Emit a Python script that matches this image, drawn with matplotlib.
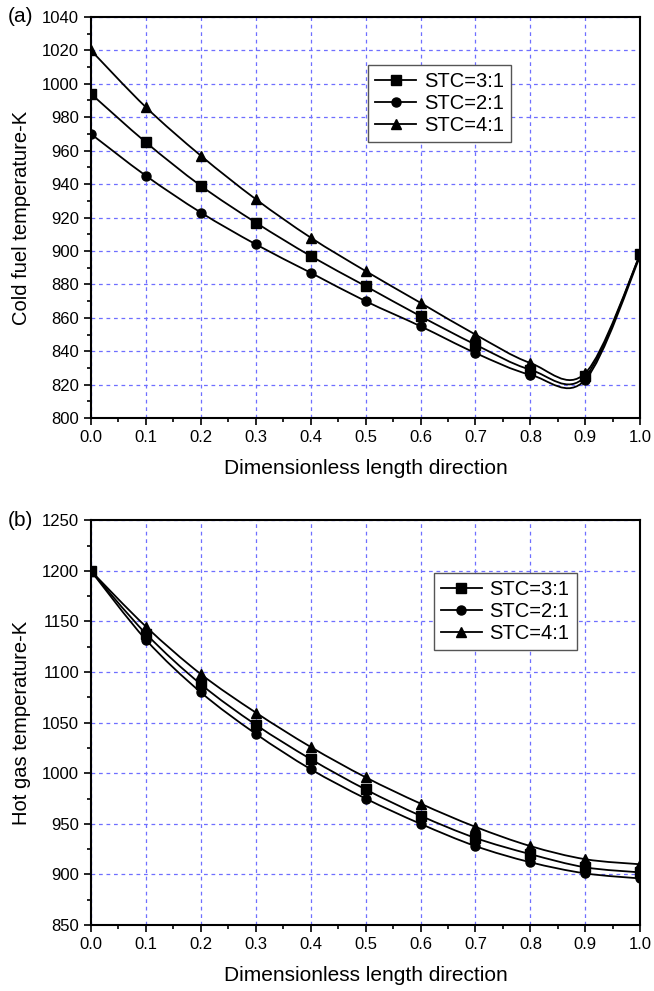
import numpy as np
import matplotlib.pyplot as plt
from matplotlib.path import Path
from matplotlib.patches import PathPatch
from matplotlib.lines import Line2D
from matplotlib.ticker import MultipleLocator

plt.rcParams['font.family'] = ['Liberation Sans', 'DejaVu Sans']

x = [0.0, 0.1, 0.2, 0.3, 0.4, 0.5, 0.6, 0.7, 0.8, 0.9, 1.0]

# (a) cold fuel temperature, K
cold_31 = [994, 965, 939, 917, 897, 879, 861, 844, 829, 825, 898]
cold_21 = [970, 945, 923, 904, 887, 870, 855, 839, 826, 823, 897]
cold_41 = [1020, 986, 957, 931, 908, 888, 869, 850, 833, 827, 898]

# (b) hot gas temperature, K
hot_31 = [1200, 1138, 1088, 1048, 1014, 984, 958, 936, 920, 907, 902]
hot_21 = [1200, 1132, 1080, 1039, 1004, 975, 950, 928, 912, 901, 896]
hot_41 = [1200, 1145, 1098, 1060, 1026, 996, 970, 947, 928, 915, 910]

labels = ['STC=3:1', 'STC=2:1', 'STC=4:1']
markers = ['s', 'o', '^']


def spline_path(xs, ys):
    # Catmull-Rom through the points, written as cubic Bezier segments
    xs = np.asarray(xs, float)
    ys = np.asarray(ys, float)
    pts = np.column_stack([xs, ys])
    n = len(pts)
    verts = [pts[0]]
    codes = [Path.MOVETO]
    for i in range(n - 1):
        p0 = pts[i - 1] if i > 0 else pts[i]
        p1 = pts[i]
        p2 = pts[i + 1]
        p3 = pts[i + 2] if i + 2 < n else pts[i + 1]
        c1 = p1 + (p2 - p0) / 6.0
        c2 = p2 - (p3 - p1) / 6.0
        verts += [c1, c2, p2]
        codes += [Path.CURVE4] * 3
    return Path(verts, codes)


def panel(ax, series, ylim, ymajor, yminor, ylabel, tag, legend_box):
    for ys, m in zip(series, markers):
        ax.add_patch(PathPatch(spline_path(x, ys), fill=False,
                               edgecolor='black', lw=1.3, zorder=3))
        ax.plot(x, ys, ls='none', marker=m, color='black', ms=6.5, zorder=4)
    ax.set_xlim(0, 1.0)
    ax.set_ylim(*ylim)
    ax.xaxis.set_major_locator(MultipleLocator(0.1))
    ax.xaxis.set_minor_locator(MultipleLocator(0.05))
    ax.yaxis.set_major_locator(MultipleLocator(ymajor))
    ax.yaxis.set_minor_locator(MultipleLocator(yminor))
    ax.xaxis.set_major_formatter(plt.FormatStrFormatter('%.1f'))
    ax.grid(True, which='major', color='#6f6fff', ls=(0, (3, 3)), lw=0.9)
    ax.set_axisbelow(True)
    ax.tick_params(which='major', direction='out', length=5, width=1.2,
                   labelsize=12)
    ax.tick_params(which='minor', direction='out', length=3, width=1.2)
    for s in ax.spines.values():
        s.set_linewidth(1.5)
    ax.set_xlabel('Dimensionless length direction', fontsize=15, labelpad=10)
    ax.set_ylabel(ylabel, fontsize=14.5, labelpad=8)
    ax.text(-0.152, 1.0, tag, transform=ax.transAxes, fontsize=15,
            ha='left', va='center')
    handles = [Line2D([], [], color='black', lw=1.3, marker=m, ms=6.5)
               for m in markers]
    leg = ax.legend(handles, labels, loc='upper left',
                    bbox_to_anchor=legend_box, fontsize=14.5, frameon=True,
                    fancybox=False, edgecolor='#555555', framealpha=1,
                    handlelength=2.0, handletextpad=0.4, borderpad=0.35,
                    labelspacing=0.15, borderaxespad=0)
    leg.get_frame().set_linewidth(1.0)


fig = plt.figure(figsize=(6.54, 9.91), dpi=100)
ax1 = fig.add_axes([0.139, 0.578, 0.840, 0.405])
ax2 = fig.add_axes([0.139, 0.0666, 0.840, 0.4084])

panel(ax1, [cold_31, cold_21, cold_41], (800, 1040), 20, 10,
      'Cold fuel temperature-K', '(a)', (0.505, 0.88))
panel(ax2, [hot_31, hot_21, hot_41], (850, 1250), 50, 25,
      'Hot gas temperature-K', '(b)', (0.625, 0.869))

fig.savefig('out.png', dpi=100)
